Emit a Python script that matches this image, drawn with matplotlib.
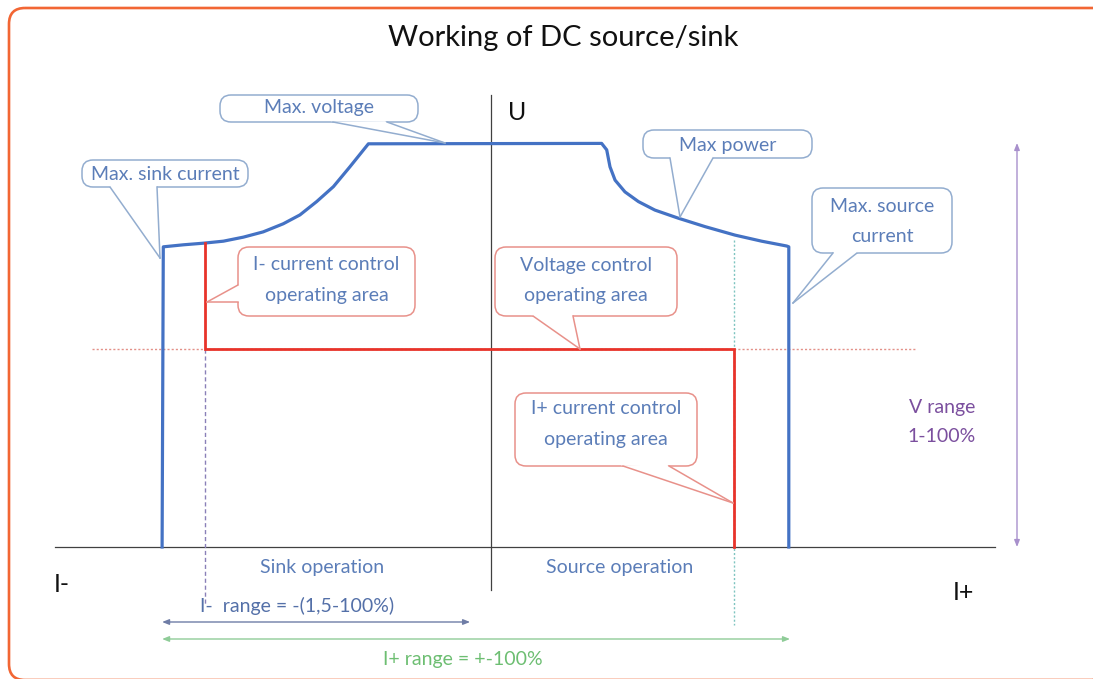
import numpy as np
import matplotlib
matplotlib.use("Agg")
import matplotlib.pyplot as plt
from matplotlib.patches import FancyBboxPatch, Polygon, FancyArrowPatch

plt.rcParams['font.family'] = ['Lato', 'DejaVu Sans']

# ---------------- data (current I in %, voltage U in %) ----------------
env_I = [-110, -109.6, -102.9, -96.2, -89.5, -82.8, -76.2, -69.5, -63.9, -58.3, -52.7,
         -47.2, -41.0, 37.0, 38.7, 39.8, 41.5, 44.8, 49.3, 54.8, 62.6, 71.6, 81.6,
         90.5, 98.9, 99.6, 99.6]
env_U = [0, 74.3, 74.8, 75.2, 75.7, 76.7, 78.0, 80.0, 82.2, 85.5, 89.2,
         94.1, 99.8, 99.9, 98.3, 94.1, 90.8, 87.9, 85.5, 83.4, 81.4, 79.3, 77.2,
         75.7, 74.5, 74.3, 0]

ctrl_I = [-95.7, -95.7, 81.3, 81.3]
ctrl_U = [75.2, 49, 49, 0]

v_set = 49            # voltage set level (dotted)
i_minus_limit = -95.7 # sink current setting
i_plus_limit = 81.3   # source current setting
i_minus_range = [-110, -7]
i_plus_range = [-110, 100]
v_range = [0, 100]

# ---------------- figure ----------------
W, H = 1093, 679
fig = plt.figure(figsize=(W / 100, H / 100), dpi=100)
fig.patch.set_facecolor('white')

# pixel mapping of data axes: px = 491 + 2.99*I ; py = 547 - 4.04*U
sx, ox = 2.99, 491
sy, oy = 4.04, 547
ax = fig.add_axes([0, 0, 1, 1])
ax.set_xlim((0 - ox) / sx, (W - ox) / sx)
ax.set_ylim((oy - H) / sy, oy / sy)
ax.axis('off')

BLUE = '#4472C4'
RED = '#E8332A'

# axes lines
ax.plot([(55 - ox) / sx, (995 - ox) / sx], [0, 0], color='#404040', lw=0.9, zorder=2)
ax.plot([0, 0], [(oy - 590) / sy, (oy - 95) / sy], color='#404040', lw=0.9, zorder=2)

# reference lines
ax.plot([(92 - ox) / sx, (915 - ox) / sx], [v_set, v_set], color='#E39088', lw=1.0,
        ls=(0, (1.5, 1.5)), zorder=2)
ax.plot([i_plus_limit, i_plus_limit], [76, (oy - 625) / sy], color='#7EC4C0', lw=1.0,
        ls=(0, (1.5, 1.5)), zorder=2)
ax.plot([i_minus_limit, i_minus_limit], [v_set, (oy - 605) / sy], color='#8A80B8', lw=1.0,
        ls=(0, (3, 2)), zorder=2)

# envelope and control curves
ax.plot(env_I, env_U, color=BLUE, lw=2.3, solid_joinstyle='round', zorder=4)
ax.plot(ctrl_I, ctrl_U, color=RED, lw=2.0, solid_joinstyle='miter', zorder=5)

# range arrows
def darrow(p1, p2, color):
    a = FancyArrowPatch(p1, p2, arrowstyle='<|-|>,head_length=4,head_width=1.6',
                        color=color, lw=1.0, shrinkA=0, shrinkB=0, zorder=3)
    ax.add_patch(a)

darrow(((1017 - ox) / sx, v_range[0]), ((1017 - ox) / sx, v_range[1]), '#A890CC')
yim = (oy - 622) / sy
darrow((i_minus_range[0], yim), (i_minus_range[1], yim), '#6F7DA6')
yip = (oy - 639) / sy
darrow((i_plus_range[0], yip), (i_plus_range[1], yip), '#8FCC98')

# ---------------- overlay in pixel coords for annotations ----------------
ov = fig.add_axes([0, 0, 1, 1], facecolor='none')
ov.set_xlim(0, W)
ov.set_ylim(H, 0)
ov.axis('off')

# outer border (partly outside the picture on the right and bottom)
ov.add_patch(FancyBboxPatch((9, 8), 1100, 672, boxstyle='round,pad=0,rounding_size=16',
                            fc='none', ec='#F26634', lw=1.9, zorder=1, clip_on=True))

TXT_BLUE = '#5B7DB8'
EDGE_BLUE = '#93ADCF'
EDGE_RED = '#E8918A'
FS = 14

def callout(box, b1, b2, tip, ec, lines, ys, tc=TXT_BLUE):
    x0, y0, x1, y1 = box
    ov.add_patch(FancyBboxPatch((x0, y0), x1 - x0, y1 - y0,
                                boxstyle='round,pad=0,rounding_size=11',
                                fc='white', ec=ec, lw=1.1, zorder=6))
    t = np.array(tip, float)
    pts = []
    for b in (b1, b2):
        b = np.array(b, float)
        d = b - t
        pts.append(b + 2.5 * d / np.linalg.norm(d))
    ov.add_patch(Polygon([pts[0], pts[1], t], closed=True, fc='white', ec='none', zorder=7))
    ov.plot([b1[0], tip[0]], [b1[1], tip[1]], color=ec, lw=1.1, zorder=8)
    ov.plot([b2[0], tip[0]], [b2[1], tip[1]], color=ec, lw=1.1, zorder=8)
    cx = (x0 + x1) / 2
    for s, yy in zip(lines, ys):
        ov.text(cx, yy, s, ha='center', va='center', fontsize=FS, color=tc, zorder=9)

callout((220, 95, 418, 122), (333, 122), (387, 122), (445, 143), EDGE_BLUE,
        ['Max. voltage'], [108])
callout((82, 160, 248, 187), (110, 187), (157, 187), (160, 258), EDGE_BLUE,
        ['Max. sink current'], [174])
callout((238, 247, 415, 316), (238, 285), (238, 302), (207, 302), EDGE_RED,
        ['I- current control', 'operating area'], [265, 295])
callout((495, 247, 677, 316), (533, 316), (573, 316), (580, 349), EDGE_RED,
        ['Voltage control', 'operating area'], [265, 295])
callout((643, 130, 812, 158), (670, 158), (713, 158), (680, 217), EDGE_BLUE,
        ['Max power'], [145])
callout((812, 188, 952, 253), (833, 253), (857, 253), (793, 303), EDGE_BLUE,
        ['Max. source', 'current'], [206, 236])
callout((515, 393, 697, 466), (623, 466), (669, 466), (733, 503), EDGE_RED,
        ['I+ current control', 'operating area'], [409, 439])

# titles and labels
ov.text(563, 38, 'Working of DC source/sink', ha='center', va='center',
        fontsize=21, color='#111111')
ov.text(517, 112, 'U', ha='center', va='center', fontsize=18, color='#111111')
ov.text(62, 585, 'I-', ha='center', va='center', fontsize=18, color='#111111')
ov.text(963, 592, 'I+', ha='center', va='center', fontsize=18, color='#111111')
ov.text(322, 567, 'Sink operation', ha='center', va='center', fontsize=FS, color=TXT_BLUE)
ov.text(620, 567, 'Source operation', ha='center', va='center', fontsize=FS, color=TXT_BLUE)
ov.text(297, 606, 'I-  range = -(1,5-100%)', ha='center', va='center', fontsize=FS,
        color='#5470A8')
ov.text(463, 660, 'I+ range = +-100%', ha='center', va='center', fontsize=FS,
        color='#6DBE72')
ov.text(942, 408, 'V range', ha='center', va='center', fontsize=FS, color='#7B4F9E')
ov.text(942, 437, '1-100%', ha='center', va='center', fontsize=FS, color='#7B4F9E')

fig.savefig('out.png', dpi=100, facecolor='white')
